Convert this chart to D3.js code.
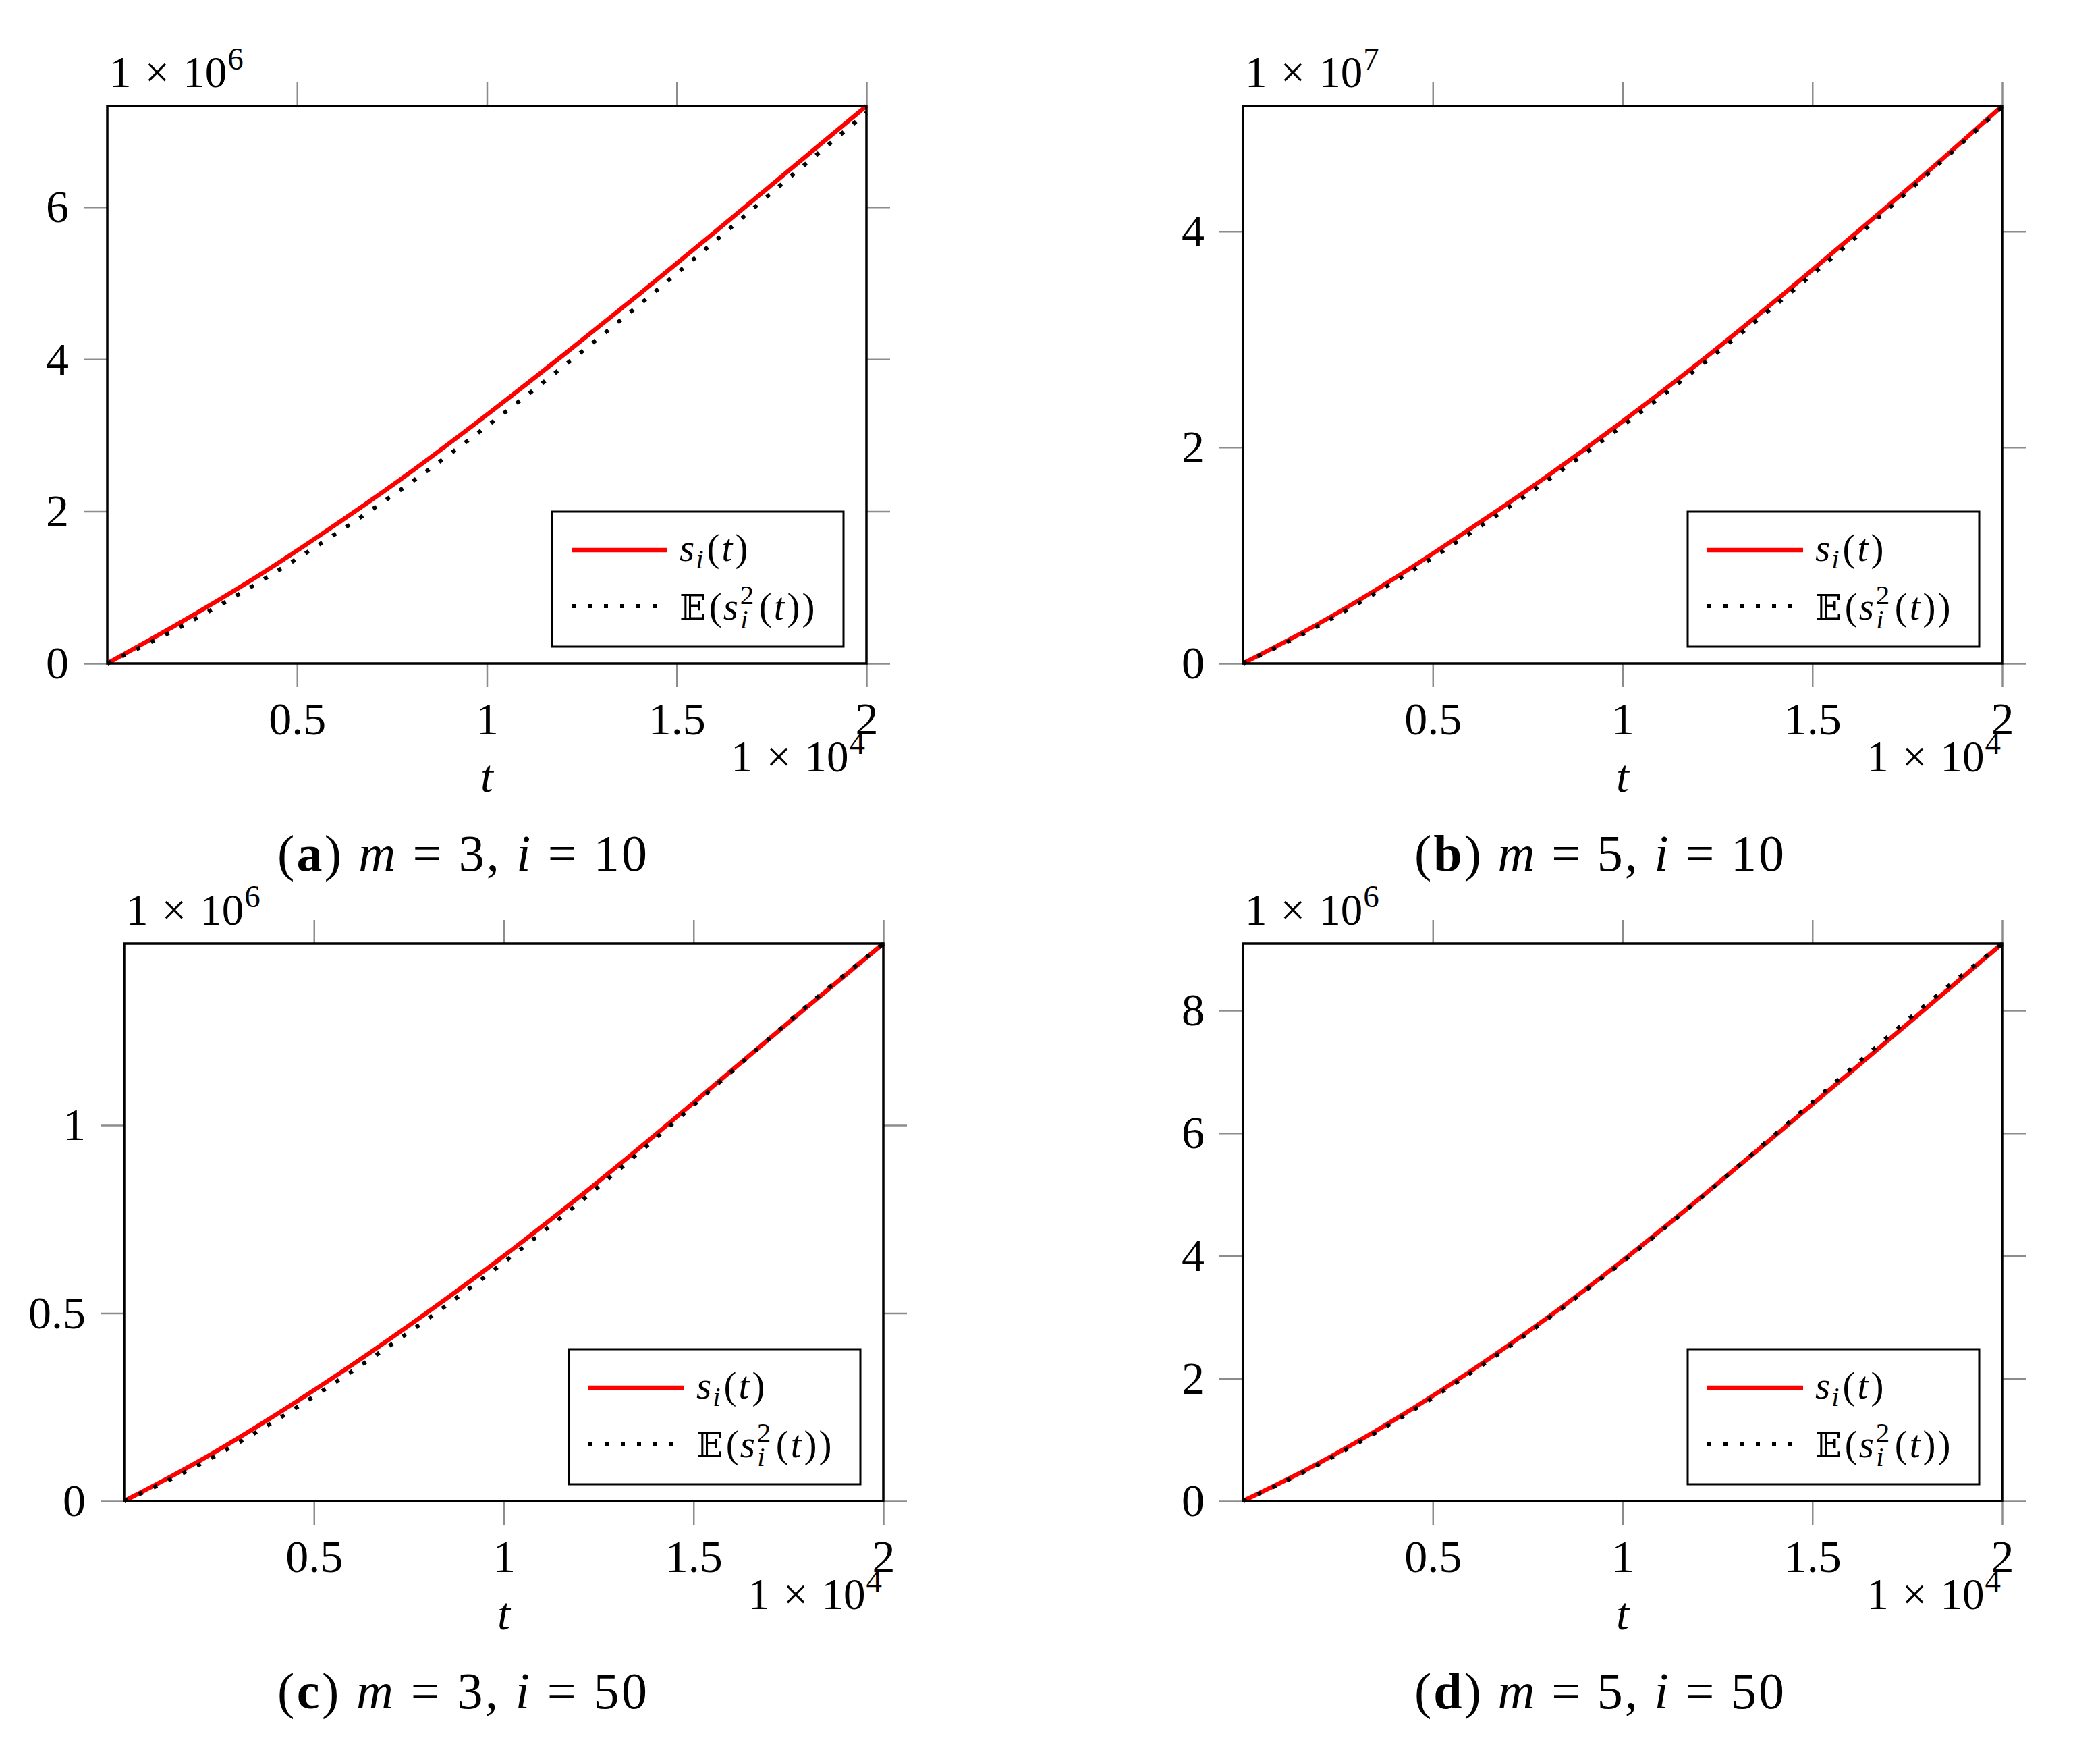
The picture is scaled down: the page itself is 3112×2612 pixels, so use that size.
<!DOCTYPE html>
<html><head><meta charset="utf-8">
<script src="https://cdn.jsdelivr.net/npm/d3@7"></script>
<style>
body{margin:0;background:#fff}
svg{display:block}
text{font-family:"Liberation Serif","Times New Roman",serif;fill:#000}
</style>
</head><body><svg id="chart" width="3112" height="2612"></svg>
<script>
// ---------- data ----------
const tValues = [0, 2000, 4000, 6000, 8000, 10000, 12000, 14000, 16000, 18000, 20000];

// panel (a) m=3, i=10
const sA = [0, 0.56e6, 1.16e6, 1.82e6, 2.52e6, 3.27e6, 4.05e6, 4.85e6, 5.67e6, 6.50e6, 7.33e6];
const eA = [0, 0.50e6, 1.07e6, 1.70e6, 2.38e6, 3.12e6, 3.90e6, 4.71e6, 5.55e6, 6.40e6, 7.24e6];
// panel (b) m=5, i=10
const sB = [0, 0.37e7, 0.79e7, 1.25e7, 1.73e7, 2.24e7, 2.78e7, 3.35e7, 3.94e7, 4.54e7, 5.16e7];
const eB = [0, 0.35e7, 0.76e7, 1.21e7, 1.69e7, 2.20e7, 2.74e7, 3.31e7, 3.90e7, 4.52e7, 5.15e7];
// panel (c) m=3, i=50
const sC = [0, 0.108e6, 0.230e6, 0.362e6, 0.503e6, 0.652e6, 0.810e6, 0.975e6, 1.145e6, 1.315e6, 1.483e6];
const eC = [0, 0.098e6, 0.215e6, 0.345e6, 0.485e6, 0.635e6, 0.795e6, 0.965e6, 1.142e6, 1.318e6, 1.483e6];
// panel (d) m=5, i=50
const sD = [0, 0.62e6, 1.33e6, 2.12e6, 2.98e6, 3.92e6, 4.92e6, 5.95e6, 6.99e6, 8.04e6, 9.09e6];
const eD = [0, 0.60e6, 1.30e6, 2.09e6, 2.96e6, 3.90e6, 4.91e6, 5.97e6, 7.04e6, 8.10e6, 9.09e6];

const xTickValues = [5000, 10000, 15000, 20000];
const xTickLabels = ["0.5", "1", "1.5", "2"];
const xExponent = "4";

const yTicksA = [0, 2e6, 4e6, 6e6];       const yLabelsA = ["0", "2", "4", "6"];
const yTicksB = [0, 2e7, 4e7];            const yLabelsB = ["0", "2", "4"];
const yTicksC = [0, 0.5e6, 1e6];          const yLabelsC = ["0", "0.5", "1"];
const yTicksD = [0, 2e6, 4e6, 6e6, 8e6];  const yLabelsD = ["0", "2", "4", "6", "8"];
const yExponents = ["6", "7", "6", "6"];

const panelLetters = ["a", "b", "c", "d"];
const mValues = ["3", "5", "3", "5"];
const iValues = ["10", "10", "50", "50"];

// ---------- layout ----------
const W = 1125, H = 826;
const layout = [
  {left: 159,  top: 157,  capX: 685,  capY: 1290},
  {left: 1842, top: 157,  capX: 2370, capY: 1290},
  {left: 184,  top: 1398, capX: 685,  capY: 2531},
  {left: 1842, top: 1398, capX: 2370, capY: 2531}
];
const series = [[sA, eA], [sB, eB], [sC, eC], [sD, eD]];
const yTicks = [yTicksA, yTicksB, yTicksC, yTicksD];
const yLabels = [yLabelsA, yLabelsB, yLabelsC, yLabelsD];

const FS = 68, EFS = 65, SUP = 47, LFS = 57, CFS = 76;
const TICKLEN = 35, TICKCOL = "#8c8c8c";

const svg = d3.select("#chart");

function styleAxis(g) {
  g.select(".domain").remove();
  g.selectAll(".tick line").attr("stroke", TICKCOL).attr("stroke-width", 2.5);
  g.selectAll(".tick text").attr("font-family", "'Liberation Serif',serif").attr("font-size", FS).attr("fill", "#000");
  g.attr("font-family", null).attr("font-size", null);
}

function sciLabel(sel, exp) {
  sel.append("tspan").text("1");
  sel.append("tspan").attr("dx", 20).text("\u00d7");
  sel.append("tspan").attr("dx", 20).text("10");
  sel.append("tspan").attr("font-size", SUP).attr("dy", -26).attr("dx", 1).text(exp);
}

layout.forEach((L, k) => {
  const g = svg.append("g").attr("transform", `translate(${L.left},${L.top})`);
  const [s, e] = series[k];
  const x = d3.scaleLinear().domain([0, d3.max(tValues)]).range([0, W]);
  const y = d3.scaleLinear().domain([0, d3.max([...s, ...e])]).range([H, 0]);

  // ticks (outside) on all four sides
  g.append("g").attr("transform", `translate(0,${H})`)
    .call(d3.axisBottom(x).tickValues(xTickValues).tickSize(TICKLEN).tickSizeOuter(0).tickPadding(22)
      .tickFormat((d, j) => xTickLabels[j])).call(styleAxis);
  g.append("g")
    .call(d3.axisTop(x).tickValues(xTickValues).tickSize(TICKLEN).tickSizeOuter(0).tickFormat(() => ""))
    .call(styleAxis);
  g.append("g")
    .call(d3.axisLeft(y).tickValues(yTicks[k]).tickSize(TICKLEN).tickSizeOuter(0).tickPadding(22)
      .tickFormat((d, j) => yLabels[k][j])).call(styleAxis);
  g.append("g").attr("transform", `translate(${W},0)`)
    .call(d3.axisRight(y).tickValues(yTicks[k]).tickSize(TICKLEN).tickSizeOuter(0).tickFormat(() => ""))
    .call(styleAxis);

  // curves
  const pts = arr => tValues.map((t, j) => [t, arr[j]]);
  const line = d3.line().x(d => x(d[0])).y(d => y(d[1])).curve(d3.curveMonotoneX);
  g.append("path").attr("d", line(pts(s))).attr("fill", "none")
    .attr("stroke", "#ff0000").attr("stroke-width", 6.5);
  g.append("path").attr("d", line(pts(e))).attr("fill", "none")
    .attr("stroke", "#000").attr("stroke-width", 6).attr("stroke-dasharray", "6,18");

  // frame
  g.append("rect").attr("x", 0).attr("y", 0).attr("width", W).attr("height", H)
    .attr("fill", "none").attr("stroke", "#000").attr("stroke-width", 3.5);

  // y exponent label
  const ye = g.append("text").attr("x", 3).attr("y", -28).attr("font-size", EFS);
  sciLabel(ye, yExponents[k]);

  // x exponent label
  const xe = g.append("text").attr("x", W - 2).attr("y", H + 160).attr("font-size", EFS).attr("text-anchor", "end");
  sciLabel(xe, xExponent);

  // x label
  g.append("text").attr("x", W / 2).attr("y", H + 190).attr("font-size", FS)
    .attr("font-style", "italic").attr("text-anchor", "middle").text("t");

  // legend
  const lw = 432, lh = 200;
  const lg = g.append("g").attr("transform", `translate(${W - 34 - lw},${H - 25 - lh})`);
  lg.append("rect").attr("width", lw).attr("height", lh).attr("fill", "#fff")
    .attr("stroke", "#000").attr("stroke-width", 3);
  lg.append("line").attr("x1", 29).attr("x2", 171).attr("y1", 57).attr("y2", 57)
    .attr("stroke", "#ff0000").attr("stroke-width", 6.5);
  lg.append("line").attr("x1", 29).attr("x2", 171).attr("y1", 140).attr("y2", 140)
    .attr("stroke", "#000").attr("stroke-width", 6).attr("stroke-dasharray", "6,18");
  const t1 = lg.append("text").attr("x", 189).attr("y", 73).attr("font-size", LFS);
  t1.append("tspan").attr("font-style", "italic").text("s");
  t1.append("tspan").attr("font-style", "italic").attr("font-size", 41).attr("dy", 11).attr("dx", 2).text("i");
  t1.append("tspan").attr("dy", -11).attr("dx", 5).text("(");
  t1.append("tspan").attr("font-style", "italic").attr("dx", 3).text("t");
  t1.append("tspan").attr("dx", 4).text(")");
  const t2 = lg.append("text").attr("x", 189).attr("y", 160).attr("font-size", LFS);
  t2.append("tspan").style("font-family", "'DejaVu Serif','DejaVu Sans',serif").attr("font-size", 52).text("\u{1D53C}");
  t2.append("tspan").attr("dx", 4).text("(");
  t2.append("tspan").attr("font-style", "italic").attr("dx", 2).text("s");
  t2.append("tspan").attr("font-size", 41).attr("dy", -23).attr("dx", 3).text("2");
  t2.append("tspan").attr("font-style", "italic").attr("font-size", 41).attr("dy", 36).attr("dx", -20).text("i");
  t2.append("tspan").attr("dy", -13).attr("dx", 16).text("(");
  t2.append("tspan").attr("font-style", "italic").attr("dx", 3).text("t");
  t2.append("tspan").attr("dx", 4).text(")");
  t2.append("tspan").attr("dx", 3).text(")");

  // caption
  const cap = svg.append("text").attr("x", L.capX).attr("y", L.capY).attr("font-size", CFS)
    .attr("text-anchor", "middle").attr("textLength", 548).attr("lengthAdjust", "spacing");
  cap.append("tspan").text("(");
  cap.append("tspan").attr("font-weight", "bold").text(panelLetters[k]);
  cap.append("tspan").text(") ");
  cap.append("tspan").attr("font-style", "italic").text("m");
  cap.append("tspan").text(" = " + mValues[k] + ", ");
  cap.append("tspan").attr("font-style", "italic").text("i");
  cap.append("tspan").text(" = " + iValues[k]);
});
</script>
</body></html>
